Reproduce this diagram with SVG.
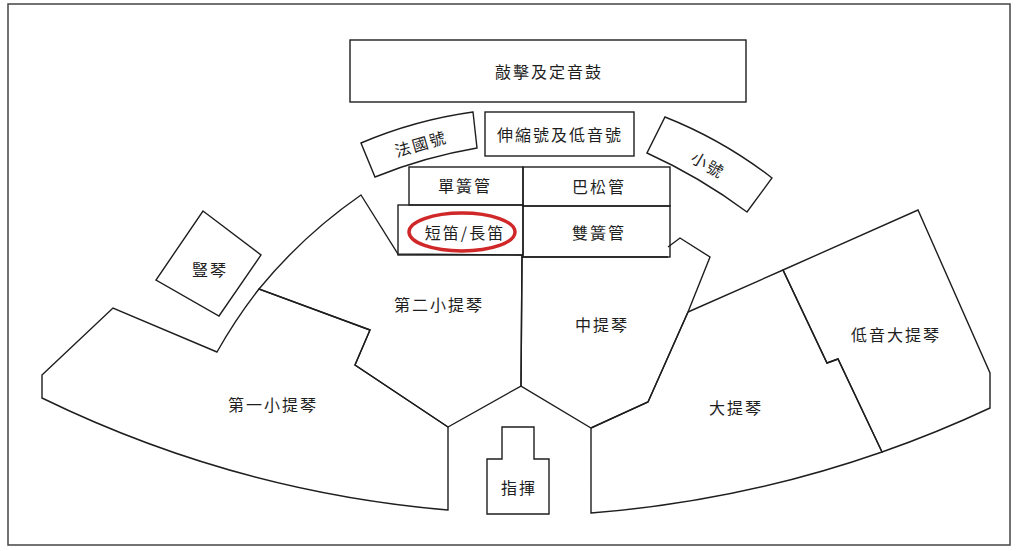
<svg xmlns="http://www.w3.org/2000/svg" width="1017" height="551" viewBox="0 0 1017 551">
<style>
.bg{fill:#ffffff}
.frame{fill:none;stroke:#444;stroke-width:1.5}
.sh{fill:none;stroke:#1e1e1e;stroke-width:1.4;stroke-linejoin:miter}
.t{font-family:"Noto Sans CJK TC","Noto Sans CJK SC",sans-serif;font-size:16px;fill:#1e1e1e;text-anchor:middle;letter-spacing:2px}
.hl{fill:none;stroke:#d02828;stroke-width:3.5}
</style>
<rect class="bg" x="0" y="0" width="1017" height="551"/>
<rect class="frame" x="8" y="4" width="1002" height="541"/>

<g id="percussion">
<rect class="sh" x="350" y="40" width="396" height="62"/>
<text class="t" x="549" y="78">敲擊及定音鼓</text>
</g>
<g id="trombone-tuba">
<rect class="sh" x="485" y="112" width="149" height="44"/>
<text class="t" x="560" y="141">伸縮號及低音號</text>
</g>
<g id="horn">
<path class="sh" d="M361,143 Q415,120 473,112 L477,148 Q424,157 375,177 Z"/>
<text class="t" transform="translate(421,144) rotate(-16)" x="0" y="6">法國號</text>
</g>
<g id="trumpet">
<path class="sh" d="M665,117 Q723,140 772,178 L747,212 Q700,177 647,153 Z"/>
<text class="t" transform="translate(708,165) rotate(30)" x="0" y="6">小號</text>
</g>
<g id="clarinet">
<rect class="sh" x="409" y="167" width="114" height="38"/>
<text class="t" x="465" y="192">單簧管</text>
</g>
<g id="bassoon">
<rect class="sh" x="523" y="167" width="147" height="39"/>
<text class="t" x="599" y="193">巴松管</text>
</g>
<g id="flute">
<rect class="sh" x="398" y="205" width="125" height="50"/>
<text class="t" x="465" y="239">短笛/長笛</text>
<ellipse class="hl" cx="462" cy="232" rx="53" ry="19"/>
</g>
<g id="oboe">
<rect class="sh" x="523" y="206" width="147" height="51"/>
<text class="t" x="599" y="239">雙簧管</text>
</g>
<g id="harp">
<path class="sh" d="M203,211 L261,255 L219,316 L156,280 Z"/>
<text class="t" x="210" y="276">豎琴</text>
</g>
<g id="violin1">
<path class="sh" d="M42,375 L113,308 L217,352 A500,500 0 0 1 259,289 L370,330 L355,365 L448,427 L448,510 A1150,1150 0 0 1 42,398 Z"/>
<text class="t" x="273" y="411">第一小提琴</text>
</g>
<g id="violin2">
<path class="sh" d="M361,195 L398,254 L522,255 L521,386 L448,427 L355,365 L370,330 L259,289 A500,500 0 0 1 361,195 Z"/>
<text class="t" x="439" y="311">第二小提琴</text>
</g>
<g id="viola">
<path class="sh" d="M668,247 L680,238 L710,257 L688,312 L648,402 L591,428 L521,386 L522,257 L668,257"/>
<text class="t" x="602" y="331">中提琴</text>
</g>
<g id="cello">
<path class="sh" d="M688,312 L783,270 L827,363 L838,359 L882,452 A1150,1150 0 0 1 591,513 L591,428 L648,402 Z"/>
<text class="t" x="736" y="414">大提琴</text>
</g>
<g id="doublebass">
<path class="sh" d="M783,270 L918,210 L990,373 L990,408 A1150,1150 0 0 1 882,452 L838,359 L827,363 Z"/>
<text class="t" x="896" y="341">低音大提琴</text>
</g>
<g id="conductor">
<path class="sh" d="M502,427 L534,427 L534,459 L549,459 L549,514 L487,514 L487,459 L502,459 Z"/>
<text class="t" x="519" y="494">指揮</text>
</g>
<g id="connectors"></g>
</svg>
